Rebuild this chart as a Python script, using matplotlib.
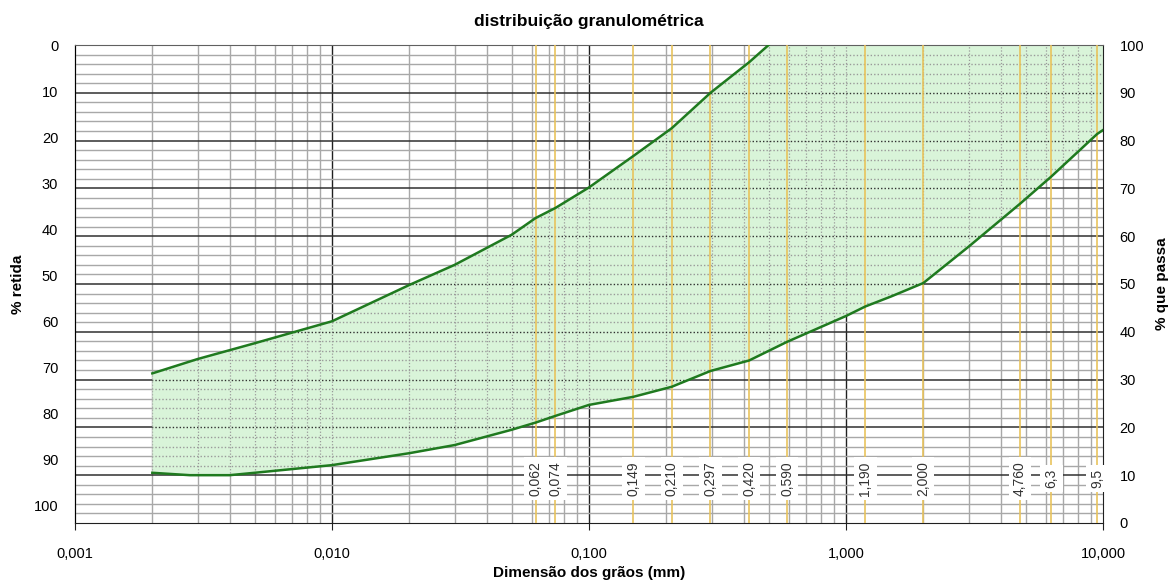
import numpy as np
import matplotlib
matplotlib.use("Agg")
import matplotlib.pyplot as plt

plt.rcParams['font.family'] = ['Liberation Sans', 'DejaVu Sans']

# limite superior da faixa (% que passa)
sup_x = [0.002, 0.003, 0.005, 0.01, 0.02, 0.03, 0.05, 0.062, 0.074, 0.1, 0.149, 0.21, 0.297, 0.42, 0.5]
sup_p = [31.3, 34.3, 37.6, 42.2, 49.8, 54.0, 60.3, 63.8, 65.9, 70.2, 76.8, 82.6, 90.0, 96.4, 100.0]

# limite inferior da faixa (% que passa)
inf_x = [0.002, 0.0028, 0.004, 0.005, 0.01, 0.02, 0.03, 0.05, 0.062, 0.074, 0.1, 0.149,
         0.21, 0.297, 0.42, 0.59, 1.0, 1.19, 1.5, 2.0, 3.0, 4.76, 6.3, 9.5, 10.0]
inf_p = [10.5, 10.0, 10.0, 10.5, 12.1, 14.6, 16.3, 19.5, 21.0, 22.4, 24.7, 26.4,
         28.5, 31.8, 34.0, 37.9, 43.3, 45.3, 47.4, 50.2, 57.8, 66.8, 72.5, 81.4, 82.2]

# peneiras
peneiras = [0.062, 0.074, 0.149, 0.210, 0.297, 0.420, 0.590, 1.190, 2.000, 4.760, 6.3, 9.5]
peneiras_txt = ["0,062", "0,074", "0,149", "0,210", "0,297", "0,420", "0,590",
                "1,190", "2,000", "4,760", "6,3", "9,5"]

xticks = [0.001, 0.01, 0.1, 1, 10]
xticks_txt = ["0,001", "0,010", "0,100", "1,000", "10,000"]

fig = plt.figure(figsize=(11.68, 5.84), dpi=100)
ax = fig.add_axes([0.0642, 0.1045, 0.8801, 0.8184])
ax.set_xscale('log')
ax.set_xlim(0.001, 10)
ax.set_ylim(0, 100)

# grade (desenhada a mao, como no excel)
xs_menor = [m * 10.0 ** e for e in range(-3, 1) for m in range(2, 10)]
for v in xs_menor:
    ax.axvline(v, color='#a8a8a8', lw=1.0, zorder=1)
for v in [0.01, 0.1, 1]:
    ax.axvline(v, color='#202020', lw=1.0, zorder=1)
for v in range(2, 100, 2):
    if v % 10 == 0:
        ax.axhline(v, color='#303030', lw=1.1, zorder=1)
    else:
        ax.axhline(v, color='#a8a8a8', lw=1.0, zorder=1)

# faixa granulometrica
poly_x = sup_x + [10.0] + inf_x[::-1]
poly_y = sup_p + [100.0] + inf_p[::-1]
faixa = ax.fill(poly_x, poly_y, color='#d9f4d9', lw=0, zorder=2)[0]

# grade pontilhada dentro da faixa
for v in xs_menor + [0.01, 0.1, 1]:
    ln = ax.axvline(v, color='#9a9a9a', lw=0.9, ls=(0, (1, 1.5)), zorder=2.5)
    ln.set_clip_path(faixa)
for v in range(2, 100, 2):
    c = '#303030' if v % 10 == 0 else '#9a9a9a'
    ln = ax.axhline(v, color=c, lw=1.0, ls=(0, (1, 1.5)), zorder=2.5)
    ln.set_clip_path(faixa)

for p in peneiras:
    ax.axvline(p, color='#e8c25a', lw=1.3, alpha=0.9, zorder=3)

ax.plot(sup_x, sup_p, color='#1f7a1f', lw=1.8, zorder=4)
ax.plot(inf_x, inf_p, color='#1f7a1f', lw=1.8, zorder=4)

for p, t in zip(peneiras, peneiras_txt):
    ax.text(p, 9.3, t, rotation=90, ha='center', va='center', fontsize=10, color='#333333',
            zorder=5, bbox=dict(boxstyle='square,pad=0.3', fc='white', ec='none'))

ax.set_xticks(xticks)
ax.set_xticklabels(xticks_txt, fontsize=10.5)
ax.xaxis.set_minor_locator(matplotlib.ticker.NullLocator())
ax.tick_params(axis='x', length=5, pad=12, color='#202020')

ax.yaxis.tick_right()
ax.yaxis.set_label_position('right')
ax.set_yticks(range(0, 101, 10))
ax.tick_params(axis='y', length=0, pad=12, labelsize=10.5)
ax.set_ylabel('% que passa', fontsize=11, fontweight='bold', labelpad=8)

# eixo esquerdo: % retida (escala propria, como no original)
k = 1.037
axl = ax.secondary_yaxis('left', functions=(lambda p: k * (100 - p), lambda r: 100 - r / k))
axl.set_yticks(range(0, 101, 10))
axl.tick_params(length=0, pad=12, labelsize=10.5)
axl.set_ylabel('% retida', fontsize=11, fontweight='bold', labelpad=6)
axl.spines['left'].set_color('#202020')

for s in ['top', 'right', 'bottom']:
    ax.spines[s].set_color('#202020')
ax.spines['top'].set_color('#606060')

ax.set_xlabel('Dimensão dos grãos (mm)', fontsize=11, fontweight='bold', labelpad=4)
ax.set_title('distribuição granulométrica', fontsize=12.5, fontweight='bold', pad=14)

fig.savefig('out.png', dpi=100)
